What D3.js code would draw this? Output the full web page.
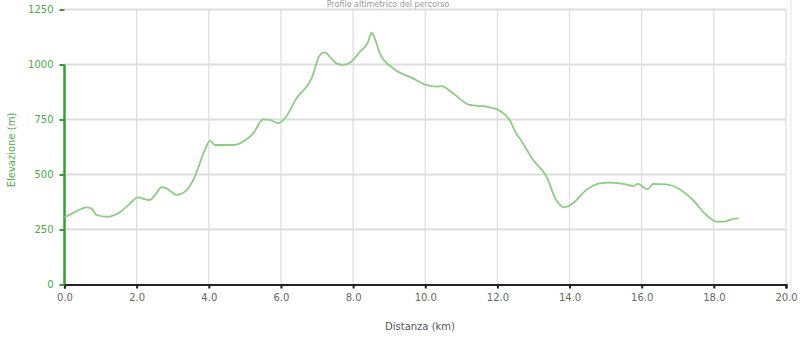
<!DOCTYPE html>
<html>
<head>
<meta charset="utf-8">
<title>Profilo altimetrico</title>
<style>
  body { margin: 0; background: #fff; }
  text { font-family: "DejaVu Sans", Verdana, sans-serif; }
</style>
</head>
<body>
<script src="https://cdnjs.cloudflare.com/ajax/libs/d3/7.8.5/d3.min.js"></script>
<script>
// distanza (km) e elevazione (m)
var distanza = [0, 0.3, 0.61, 0.75, 0.89, 1.17, 1.49, 1.77, 2.04, 2.23, 2.37, 2.51, 2.69, 2.83, 3.11,
  3.34, 3.57, 3.89, 4.03, 4.17, 4.68, 5.0, 5.23, 5.51, 5.69, 5.92, 6.11, 6.43, 6.85, 7.08, 7.22,
  7.35, 7.54, 7.72, 7.91, 8.19, 8.42, 8.51, 8.6, 8.74, 9.11, 9.66, 10.03, 10.31, 10.45, 10.77,
  11.23, 11.7, 12.06, 12.34, 12.53, 12.62, 12.99, 13.36, 13.63, 13.86, 14.09, 14.47, 14.83,
  15.11, 15.57, 15.76, 15.9, 16.03, 16.17, 16.31, 16.68, 17.05, 17.42, 17.79, 18.07, 18.3,
  18.53, 18.69];
var elevazione = [305, 330, 351, 345, 316, 308, 324, 361, 396, 387, 384, 407, 442, 437, 407,
  422, 475, 611, 654, 634, 634, 654, 687, 751, 748, 733, 755, 846, 937, 1043, 1055,
  1036, 1005, 998, 1008, 1058, 1104, 1145, 1119, 1051, 983, 937, 907, 899, 902, 869,
  816, 808, 790, 748, 684, 664, 566, 490, 384, 351, 369, 430, 460,
  463, 455, 448, 457, 445, 433, 457, 455, 433, 384, 316, 286, 286,
  298, 301];
var yTicks = [0, 250, 500, 750, 1000, 1250];
var xTicks = [0, 2, 4, 6, 8, 10, 12, 14, 16, 18, 20];

var W = 800, H = 345;
var svg = d3.select('body').append('svg').attr('width', W).attr('height', H);

var x = d3.scaleLinear().domain([0, 20]).range([64.5, 786]);
var y = d3.scaleLinear().domain([0, 1250]).range([284.5, 9.5]);

// titolo in alto
svg.append('text').attr('x', 388).attr('y', 7).attr('text-anchor', 'middle')
  .attr('font-size', 8).attr('fill', '#999').text('Profilo altimetrico del percorso');

// griglia
svg.append('g').selectAll('line').data(xTicks.slice(1)).enter().append('line')
  .attr('x1', function(d){ return x(d); }).attr('x2', function(d){ return x(d); })
  .attr('y1', y(1250)).attr('y2', y(0))
  .attr('stroke', '#dcdcdc').attr('stroke-width', 1.2);
svg.append('g').selectAll('line').data(yTicks.slice(1)).enter().append('line')
  .attr('x1', x(0)).attr('x2', x(20))
  .attr('y1', function(d){ return y(d); }).attr('y2', function(d){ return y(d); })
  .attr('stroke', '#dcdcdc').attr('stroke-width', 2);
// bordo destro esterno
svg.append('line').attr('x1', 791).attr('x2', 791).attr('y1', 0).attr('y2', 300)
  .attr('stroke', '#e4e4e4').attr('stroke-width', 1);

// asse X
var xAxis = d3.axisBottom(x).tickValues(xTicks).tickSize(4).tickFormat(d3.format('.1f'));
var gx = svg.append('g').attr('transform', 'translate(0,' + y(0) + ')').call(xAxis);
gx.select('.domain').attr('stroke', '#222').attr('stroke-width', 2.2);
gx.selectAll('.tick line').attr('stroke', '#222').attr('stroke-width', 2);
gx.selectAll('.tick text').attr('fill', '#666').attr('font-size', 10)
  .attr('font-family', '"DejaVu Sans", sans-serif').attr('dy', '0.9em');

// asse Y
var yAxis = d3.axisLeft(y).tickValues(yTicks).tickSize(5).tickSizeOuter(0).tickFormat(d3.format('d'));
var gy = svg.append('g').attr('transform', 'translate(' + x(0) + ',0)').call(yAxis);
gy.select('.domain').remove();
gy.selectAll('.tick line').attr('stroke', '#3a9a3a').attr('stroke-width', 2);
gy.selectAll('.tick text').attr('fill', '#4caa4c').attr('font-size', 10)
  .attr('font-family', '"DejaVu Sans", sans-serif').attr('dx', '-0.3em');
svg.append('line').attr('x1', x(0)).attr('x2', x(0)).attr('y1', y(1000)).attr('y2', y(0))
  .attr('stroke', '#3a9a3a').attr('stroke-width', 2.5);

// titoli degli assi
svg.append('text').attr('x', 420).attr('y', 330).attr('text-anchor', 'middle')
  .attr('font-size', 10).attr('fill', '#555').text('Distanza (km)');
svg.append('text').attr('transform', 'translate(15,150) rotate(-90)').attr('text-anchor', 'middle')
  .attr('font-size', 10).attr('fill', '#4caa4c').text('Elevazione (m)');

// profilo
var pts = distanza.map(function(d, i){ return [d, elevazione[i]]; });
var line = d3.line().x(function(d){ return x(d[0]); }).y(function(d){ return y(d[1]); })
  .curve(d3.curveMonotoneX);
svg.append('path').datum(pts).attr('d', line)
  .attr('fill', 'none').attr('stroke', '#8ccc84').attr('stroke-width', 1.8);
</script>
</body>
</html>
